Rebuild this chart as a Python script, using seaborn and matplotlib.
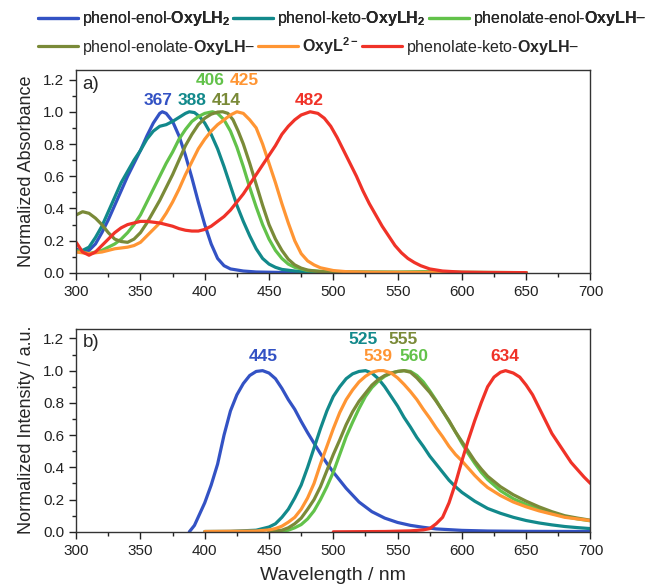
import numpy as np
import pandas as pd
import seaborn as sns
import matplotlib.pyplot as plt
from matplotlib.ticker import MultipleLocator

# ---- data: panel a (absorbance) ----
abs_enol_wl = [300, 305, 310, 315, 320, 325, 330, 335, 340, 345, 350, 355, 360, 365, 367, 370, 375, 380, 385,
               390, 395, 400, 405, 410, 415, 420, 430, 440, 460, 500, 650]
abs_enol = [0.15, 0.13, 0.14, 0.18, 0.25, 0.33, 0.42, 0.51, 0.60, 0.68, 0.76, 0.85, 0.93, 0.99, 1.0, 0.99, 0.94,
            0.85, 0.73, 0.59, 0.44, 0.30, 0.18, 0.09, 0.045, 0.025, 0.012, 0.006, 0.003, 0.001, 0.0]

abs_keto_wl = [300, 305, 310, 315, 320, 325, 330, 335, 340, 345, 350, 355, 360, 365, 370, 375, 380, 385, 388,
               392, 396, 400, 405, 410, 415, 420, 425, 430, 435, 440, 445, 450, 455, 460, 470, 480, 500, 550, 650]
abs_keto = [0.13, 0.14, 0.16, 0.22, 0.29, 0.38, 0.47, 0.56, 0.63, 0.70, 0.76, 0.83, 0.88, 0.91, 0.92, 0.94, 0.965,
            0.99, 1.0, 0.995, 0.97, 0.93, 0.86, 0.77, 0.66, 0.54, 0.42, 0.32, 0.23, 0.15, 0.09, 0.055, 0.035,
            0.022, 0.012, 0.007, 0.004, 0.002, 0.0]

abs_enolate_p_wl = [300, 305, 310, 315, 320, 325, 330, 335, 340, 345, 350, 355, 360, 365, 370, 375, 380, 385, 390,
                    395, 400, 406, 410, 415, 420, 425, 430, 435, 440, 445, 450, 455, 460, 465, 470, 480, 500, 550,
                    570, 600, 650]
abs_enolate_p = [0.14, 0.13, 0.12, 0.13, 0.14, 0.16, 0.18, 0.21, 0.25, 0.30, 0.36, 0.44, 0.52, 0.60, 0.68, 0.75,
                 0.83, 0.89, 0.94, 0.97, 0.99, 1.0, 0.99, 0.95, 0.88, 0.78, 0.66, 0.53, 0.41, 0.30, 0.21, 0.14,
                 0.09, 0.055, 0.035, 0.015, 0.006, 0.005, 0.008, 0.004, 0.002]

abs_enolate_wl = [300, 305, 310, 315, 320, 325, 330, 335, 340, 345, 350, 355, 360, 365, 370, 375, 380, 385, 390,
                  395, 400, 405, 410, 414, 418, 422, 426, 430, 435, 440, 445, 450, 455, 460, 465, 470, 475, 480,
                  490, 500, 650]
abs_enolate = [0.36, 0.38, 0.37, 0.34, 0.30, 0.25, 0.21, 0.195, 0.19, 0.21, 0.25, 0.31, 0.38, 0.45, 0.53, 0.61,
               0.70, 0.79, 0.86, 0.92, 0.96, 0.985, 0.998, 1.0, 0.99, 0.95, 0.88, 0.80, 0.68, 0.55, 0.42, 0.30,
               0.21, 0.14, 0.085, 0.05, 0.03, 0.018, 0.008, 0.005, 0.002]

abs_dianion_wl = [300, 305, 310, 315, 320, 325, 330, 335, 340, 345, 350, 355, 360, 365, 370, 375, 380, 385, 390,
                  395, 400, 405, 410, 415, 420, 425, 430, 435, 440, 445, 450, 455, 460, 465, 470, 475, 480, 485,
                  490, 500, 510, 530, 650]
abs_dianion = [0.13, 0.125, 0.12, 0.125, 0.13, 0.14, 0.15, 0.155, 0.16, 0.17, 0.19, 0.23, 0.27, 0.31, 0.37, 0.44,
               0.52, 0.61, 0.69, 0.77, 0.83, 0.88, 0.92, 0.95, 0.98, 1.0, 0.99, 0.95, 0.90, 0.80, 0.68, 0.56,
               0.43, 0.31, 0.20, 0.12, 0.075, 0.05, 0.032, 0.015, 0.008, 0.004, 0.002]

abs_ketoanion_wl = [300, 305, 310, 315, 320, 325, 330, 335, 340, 345, 350, 355, 360, 365, 370, 375, 380, 385, 390,
                    395, 400, 405, 410, 415, 420, 425, 430, 435, 440, 445, 450, 455, 460, 465, 470, 475, 482, 488,
                    493, 498, 503, 508, 513, 518, 523, 528, 533, 538, 543, 548, 553, 558, 563, 568, 575, 585, 600,
                    620, 650]
abs_ketoanion = [0.19, 0.13, 0.11, 0.13, 0.17, 0.21, 0.25, 0.28, 0.30, 0.31, 0.32, 0.32, 0.315, 0.31, 0.30, 0.29,
                 0.275, 0.265, 0.26, 0.26, 0.27, 0.29, 0.32, 0.35, 0.39, 0.44, 0.49, 0.55, 0.61, 0.67, 0.73, 0.79,
                 0.86, 0.91, 0.95, 0.98, 1.0, 0.99, 0.96, 0.91, 0.84, 0.76, 0.68, 0.60, 0.51, 0.43, 0.36, 0.29,
                 0.23, 0.17, 0.125, 0.09, 0.065, 0.045, 0.025, 0.012, 0.005, 0.003, 0.002]

# ---- data: panel b (emission) ----
em_enol_wl = [388, 392, 396, 400, 405, 410, 415, 420, 425, 430, 435, 440, 445, 450, 455, 460, 465, 470, 475, 480,
              485, 490, 495, 500, 510, 520, 530, 540, 550, 560, 570, 580, 600, 620, 650, 700]
em_enol = [0.0, 0.04, 0.11, 0.18, 0.29, 0.42, 0.60, 0.75, 0.85, 0.92, 0.97, 0.995, 1.0, 0.985, 0.95, 0.89, 0.82,
           0.76, 0.685, 0.615, 0.55, 0.485, 0.425, 0.37, 0.27, 0.185, 0.125, 0.085, 0.058, 0.04, 0.028, 0.018,
           0.009, 0.005, 0.003, 0.002]

em_keto_wl = [400, 420, 440, 450, 455, 460, 465, 470, 475, 480, 485, 490, 495, 500, 505, 510, 515, 520, 525, 530,
              535, 540, 545, 550, 555, 560, 565, 570, 575, 580, 585, 590, 595, 600, 610, 620, 630, 640, 650, 660,
              670, 680, 690, 700]
em_keto = [0.002, 0.003, 0.01, 0.03, 0.05, 0.09, 0.14, 0.21, 0.29, 0.40, 0.52, 0.64, 0.75, 0.84, 0.90, 0.95, 0.98,
           0.995, 1.0, 0.985, 0.95, 0.90, 0.84, 0.78, 0.71, 0.65, 0.585, 0.53, 0.47, 0.42, 0.37, 0.32, 0.28,
           0.245, 0.19, 0.145, 0.115, 0.09, 0.07, 0.055, 0.043, 0.033, 0.026, 0.02]

em_enolate_p_wl = [450, 460, 465, 470, 475, 480, 485, 490, 495, 500, 505, 510, 515, 520, 525, 530, 535, 540, 545,
                   550, 555, 560, 565, 570, 575, 580, 585, 590, 595, 600, 605, 610, 615, 620, 630, 640, 650, 660,
                   670, 680, 690, 700]
em_enolate_p = [0.002, 0.005, 0.01, 0.025, 0.045, 0.08, 0.13, 0.20, 0.28, 0.37, 0.48, 0.59, 0.68, 0.765, 0.84,
                0.895, 0.935, 0.965, 0.985, 0.995, 1.0, 0.995, 0.97, 0.93, 0.875, 0.815, 0.75, 0.685, 0.62, 0.55,
                0.485, 0.425, 0.37, 0.325, 0.255, 0.205, 0.17, 0.14, 0.115, 0.095, 0.08, 0.068]

em_enolate_wl = [450, 460, 465, 470, 475, 480, 485, 490, 495, 500, 505, 510, 515, 520, 525, 530, 535, 540, 545,
                 550, 555, 560, 565, 570, 575, 580, 585, 590, 595, 600, 605, 610, 615, 620, 630, 640, 650, 660,
                 670, 680, 690, 700]
em_enolate = [0.003, 0.01, 0.025, 0.05, 0.085, 0.14, 0.20, 0.28, 0.38, 0.48, 0.57, 0.665, 0.745, 0.81, 0.86,
              0.91, 0.945, 0.97, 0.985, 0.995, 1.0, 0.99, 0.955, 0.91, 0.865, 0.81, 0.75, 0.69, 0.62, 0.56, 0.50,
              0.44, 0.39, 0.345, 0.28, 0.23, 0.19, 0.155, 0.125, 0.10, 0.085, 0.072]

em_dianion_wl = [400, 440, 450, 455, 460, 465, 470, 475, 480, 485, 490, 495, 500, 505, 510, 515, 520, 525, 530,
                 535, 539, 545, 550, 555, 560, 565, 570, 575, 580, 585, 590, 595, 600, 605, 610, 615, 620, 630,
                 640, 650, 660, 670, 680, 690, 700]
em_dianion = [0.002, 0.005, 0.012, 0.02, 0.035, 0.06, 0.09, 0.14, 0.21, 0.30, 0.42, 0.53, 0.64, 0.74, 0.82, 0.88,
              0.93, 0.965, 0.99, 1.0, 1.0, 0.985, 0.955, 0.915, 0.87, 0.82, 0.76, 0.705, 0.645, 0.59, 0.53, 0.48,
              0.44, 0.395, 0.35, 0.31, 0.275, 0.225, 0.185, 0.155, 0.13, 0.11, 0.09, 0.08, 0.07]

em_ketoanion_wl = [500, 540, 560, 570, 575, 580, 585, 590, 595, 600, 605, 610, 615, 620, 625, 630, 634, 640, 645,
                   650, 655, 660, 665, 670, 675, 680, 685, 690, 695, 700]
em_ketoanion = [0.0, 0.002, 0.006, 0.012, 0.02, 0.05, 0.09, 0.18, 0.30, 0.44, 0.57, 0.69, 0.80, 0.90, 0.96, 0.99,
                1.0, 0.985, 0.96, 0.91, 0.85, 0.77, 0.69, 0.61, 0.55, 0.49, 0.43, 0.385, 0.34, 0.30]

# ---- labels / colours ----
names = ['phenol-enol-$\\mathbf{OxyLH_2}$',
         'phenol-keto-$\\mathbf{OxyLH_2}$',
         'phenolate-enol-$\\mathbf{OxyLH}$\u2212',
         'phenol-enolate-$\\mathbf{OxyLH}$\u2212',
         '$\\mathbf{OxyL^{2\u2212}}$',
         'phenolate-keto-$\\mathbf{OxyLH}$\u2212']
colors = ['#3352c4', '#12898b', '#62c24a', '#7a8a38', '#ff9533', '#f03228']

abs_peaks = ['367', '388', '406', '414', '425', '482']
em_peaks = ['445', '525', '560', '555', '539', '634']

sns.set_style('ticks')
plt.rcParams['font.family'] = ['Liberation Sans', 'DejaVu Sans']
plt.rcParams['mathtext.fontset'] = 'custom'
plt.rcParams['mathtext.rm'] = 'Liberation Sans'
plt.rcParams['mathtext.bf'] = 'Liberation Sans:bold'
plt.rcParams['axes.unicode_minus'] = True


def style_axes(ax, ylabel):
    """
    軸の体裁
    """
    ax.set_xlim(300, 700)
    ax.set_ylim(0, 1.26)
    ax.xaxis.set_major_locator(MultipleLocator(50))
    ax.xaxis.set_minor_locator(MultipleLocator(25))
    ax.yaxis.set_major_locator(MultipleLocator(0.2))
    ax.yaxis.set_minor_locator(MultipleLocator(0.1))
    ax.yaxis.set_major_formatter(plt.FormatStrFormatter('%.1f'))
    ax.tick_params(which='major', direction='out', length=5, width=1, labelsize=11, colors='#222222')
    ax.tick_params(which='minor', direction='out', length=3, width=1, colors='#222222')
    for s in ax.spines.values():
        s.set_visible(True)
        s.set_linewidth(1)
        s.set_color('#333333')
    ax.set_ylabel(ylabel, fontsize=13, labelpad=6)
    ax.set_xlabel('')


fig = plt.figure(figsize=(6.51, 5.87), dpi=100)
ax_a = fig.add_axes([0.117, 0.535, 0.790, 0.346])
ax_b = fig.add_axes([0.117, 0.094, 0.790, 0.346])

abs_sets = [(abs_enol_wl, abs_enol), (abs_keto_wl, abs_keto), (abs_enolate_p_wl, abs_enolate_p),
            (abs_enolate_wl, abs_enolate), (abs_dianion_wl, abs_dianion), (abs_ketoanion_wl, abs_ketoanion)]
em_sets = [(em_enol_wl, em_enol), (em_keto_wl, em_keto), (em_enolate_p_wl, em_enolate_p),
           (em_enolate_wl, em_enolate), (em_dianion_wl, em_dianion), (em_ketoanion_wl, em_ketoanion)]

for (wl, v), c, n in zip(abs_sets, colors, names):
    sns.lineplot(x=wl, y=v, ax=ax_a, color=c, lw=2.3, label=n)
for (wl, v), c in zip(em_sets, colors):
    sns.lineplot(x=wl, y=v, ax=ax_b, color=c, lw=2.3)

handles, labels = ax_a.get_legend_handles_labels()
ax_a.get_legend().remove()

style_axes(ax_a, 'Normalized Absorbance')
style_axes(ax_b, 'Normalized Intensity / a.u.')
ax_b.set_xlabel('Wavelength / nm', fontsize=14, labelpad=7)

# peak labels
abs_pos = [(364, 1.07), (390, 1.07), (404, 1.195), (417, 1.07), (431, 1.195), (481.5, 1.07)]
em_pos = [(445.5, 1.09), (523.5, 1.195), (562.5, 1.09), (554.5, 1.195), (535, 1.09), (633, 1.09)]
for (x, y), t, c in zip(abs_pos, abs_peaks, colors):
    ax_a.text(x, y, t, color=c, fontsize=12.5, fontweight='bold', ha='center', va='center')
for (x, y), t, c in zip(em_pos, em_peaks, colors):
    ax_b.text(x, y, t, color=c, fontsize=12.5, fontweight='bold', ha='center', va='center')

ax_a.text(0.012, 0.93, 'a)', transform=ax_a.transAxes, fontsize=13.5, va='center', ha='left')
ax_b.text(0.012, 0.93, 'b)', transform=ax_b.transAxes, fontsize=13.5, va='center', ha='left')

# two-row legend on top
leg_kw = dict(frameon=False, fontsize=11.5, handlelength=2.5, handletextpad=0.25,
              columnspacing=0.2, borderpad=0, borderaxespad=0, ncol=3, loc='center left')
leg1 = fig.legend(handles[:3], labels[:3], bbox_to_anchor=(0.058, 0.968), **leg_kw)
fig.add_artist(leg1)
fig.legend(handles[3:], labels[3:], bbox_to_anchor=(0.058, 0.922), **leg_kw)

fig.savefig('out.png', dpi=100)
